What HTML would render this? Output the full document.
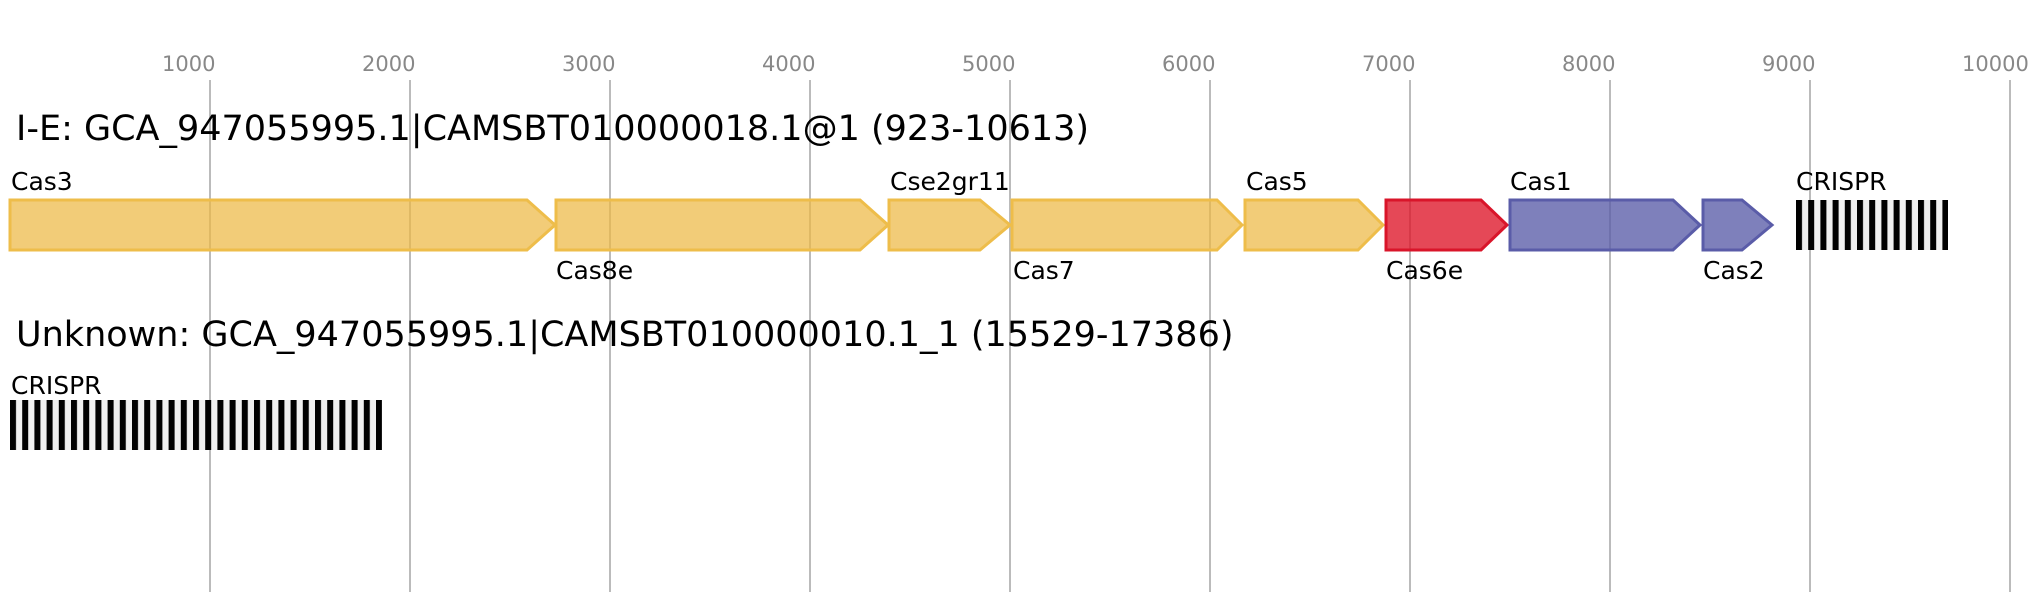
<!DOCTYPE html>
<html><head><meta charset="utf-8"><style>
html,body{margin:0;padding:0;background:#fff}
svg{display:block}
text{font-family:"DejaVu Sans","Liberation Sans",sans-serif}
</style></head><body>
<svg width="2038" height="600" xmlns="http://www.w3.org/2000/svg">
<defs>
<pattern id="cr" x="10" y="0" width="12.2" height="60" patternUnits="userSpaceOnUse">
<rect x="0" y="0" width="12.2" height="60" fill="#efefef"/><rect x="0" y="0" width="6" height="60" fill="#000"/>
</pattern>
<pattern id="cr2" x="1796" y="0" width="12.2" height="60" patternUnits="userSpaceOnUse">
<rect x="0" y="0" width="12.2" height="60" fill="#efefef"/><rect x="0" y="0" width="6" height="60" fill="#000"/>
</pattern>
</defs>
<g fill="#888" font-size="21">
<text x="162" y="71">1000</text><text x="362" y="71">2000</text><text x="562" y="71">3000</text>
<text x="762" y="71">4000</text><text x="962" y="71">5000</text><text x="1162" y="71">6000</text>
<text x="1362" y="71">7000</text><text x="1562" y="71">8000</text><text x="1762" y="71">9000</text>
<text x="1962" y="71">10000</text>
</g>
<g stroke="#bbb" stroke-width="2">
<line x1="210" y1="80" x2="210" y2="592"/><line x1="410" y1="80" x2="410" y2="592"/>
<line x1="610" y1="80" x2="610" y2="592"/><line x1="810" y1="80" x2="810" y2="592"/>
<line x1="1010" y1="80" x2="1010" y2="592"/><line x1="1210" y1="80" x2="1210" y2="592"/>
<line x1="1410" y1="80" x2="1410" y2="592"/><line x1="1610" y1="80" x2="1610" y2="592"/>
<line x1="1810" y1="80" x2="1810" y2="592"/><line x1="2010" y1="80" x2="2010" y2="592"/>
</g>
<text x="16" y="140" font-size="35" fill="#000">I-E: GCA_947055995.1|CAMSBT010000018.1@1 (923-10613)</text>
<g stroke-width="3" stroke-linejoin="miter">
<g fill="rgba(237,184,68,0.72)" stroke="#eebd4a">
<polygon points="10,200 527,200 555,225 527,250 10,250"/>
<polygon points="556,200 860,200 888,225 860,250 556,250"/>
<polygon points="889,200 980,200 1010,225 980,250 889,250"/>
<polygon points="1012,200 1217,200 1242,225 1217,250 1012,250"/>
<polygon points="1245,200 1358,200 1383,225 1358,250 1245,250"/>
</g>
<polygon points="1386,200 1481,200 1507,225 1481,250 1386,250" fill="rgba(222,20,40,0.78)" stroke="#d9152a"/>
<g fill="rgba(90,92,168,0.78)" stroke="#5a5ca8">
<polygon points="1510,200 1673,200 1700,225 1673,250 1510,250"/>
<polygon points="1703,200 1742,200 1772,225 1742,250 1703,250"/>
</g>
</g>
<rect x="1796" y="200" width="152" height="50" fill="url(#cr2)"/>
<g font-size="25" fill="#000">
<text x="11" y="190">Cas3</text>
<text x="556" y="279">Cas8e</text>
<text x="890" y="190">Cse2gr11</text>
<text x="1013" y="279">Cas7</text>
<text x="1246" y="190">Cas5</text>
<text x="1386" y="279">Cas6e</text>
<text x="1510" y="190">Cas1</text>
<text x="1703" y="279">Cas2</text>
<text x="1796" y="190">CRISPR</text>
</g>
<text x="16" y="346" font-size="35" fill="#000">Unknown: GCA_947055995.1|CAMSBT010000010.1_1 (15529-17386)</text>
<text x="11" y="394" font-size="25" fill="#000">CRISPR</text>
<rect x="10" y="400" width="372" height="50" fill="url(#cr)"/>
</svg>
</body></html>
